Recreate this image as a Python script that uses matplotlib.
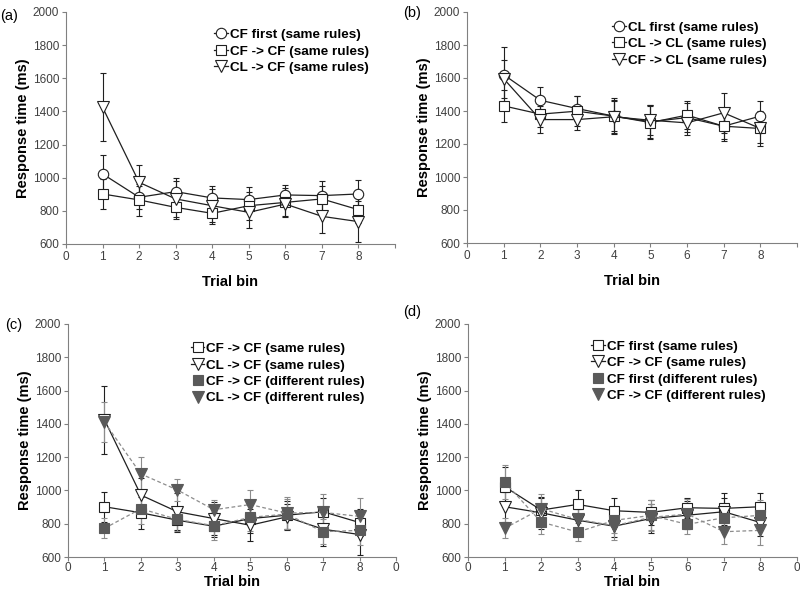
import matplotlib
matplotlib.use("Agg")
import matplotlib.pyplot as plt
from matplotlib.lines import Line2D

plt.rcParams["font.family"] = ["Liberation Sans", "DejaVu Sans"]

bins = [1, 2, 3, 4, 5, 6, 7, 8]

# panel a / shared CF data (same rules)
cf_first = [1023, 882, 916, 878, 868, 896, 892, 902]
cf_first_err = [115, 70, 85, 75, 75, 60, 90, 85]
cf_cf = [902, 866, 821, 785, 831, 851, 872, 807]
cf_cf_err = [90, 95, 70, 65, 85, 85, 80, 80]
cl_cf = [1425, 972, 872, 831, 791, 841, 767, 735]
cl_cf_err = [205, 105, 110, 100, 95, 80, 100, 125]

# panel b (CL, same rules)
cl_first = [1620, 1465, 1415, 1369, 1335, 1360, 1308, 1369]
cl_first_err = [165, 80, 75, 110, 100, 90, 90, 90]
cl_cl = [1431, 1381, 1399, 1369, 1330, 1375, 1308, 1294]
cl_cl_err = [95, 80, 90, 90, 100, 85, 80, 105]
cf_cl = [1596, 1348, 1348, 1365, 1344, 1328, 1389, 1294]
cf_cl_err = [115, 80, 65, 100, 90, 75, 120, 90]

# different rules
cf_cf_diff = [772, 890, 826, 788, 838, 858, 752, 760]
cf_cf_diff_err = [60, 90, 70, 85, 80, 90, 75, 90]
cl_cf_diff = [1410, 1099, 1003, 884, 915, 864, 868, 844]
cl_cf_diff_err = [120, 100, 68, 60, 88, 95, 110, 110]
cf_first_diff = [1051, 810, 750, 820, 850, 796, 836, 850]
cf_first_diff_err = [100, 70, 55, 75, 90, 55, 80, 90]

xticks = [0, 1, 2, 3, 4, 5, 6, 7, 8, 9]
yticks = [600, 800, 1000, 1200, 1400, 1600, 1800, 2000]

fig = plt.figure(figsize=(8, 5.95), dpi=100)
W, H = 800, 595


def make_ax(l, r, t, b):
    return fig.add_axes([l / W, 1 - b / H, (r - l) / W, (b - t) / H])


axa = make_ax(66, 395, 12, 244)
axb = make_ax(467, 797, 12, 243)
axc = make_ax(68, 396, 324, 557)
axd = make_ax(468, 797, 324, 557)

fill_grey = "#5a5a5a"
dash_grey = "#8c8c8c"


def series(ax, y, err, marker, ms, filled=False):
    if filled:
        ax.errorbar(bins, y, yerr=err, color=dash_grey, ls="--", lw=0.9,
                    elinewidth=0.8, capsize=2.5, capthick=0.8,
                    marker=marker, ms=ms, mfc=fill_grey, mec=fill_grey,
                    mew=0.8, dashes=(3, 2))
    else:
        ax.errorbar(bins, y, yerr=err, color="#202020", ls="-", lw=0.9,
                    elinewidth=0.8, capsize=2.5, capthick=0.8,
                    marker=marker, ms=ms, mfc="white", mec="#202020",
                    mew=0.8)


def handle(marker, ms, filled=False):
    if filled:
        return Line2D([], [], color="white", ls="-", lw=0.9, marker=marker,
                      ms=ms, mfc=fill_grey, mec=fill_grey, mew=0.8)
    return Line2D([], [], color="#202020", ls="-", lw=0.9, marker=marker,
                  ms=ms, mfc="white", mec="#202020", mew=0.8)


def style(ax, tag, tag_xy, bottom_row=False):
    ax.set_xlim(0, 9)
    ax.set_ylim(600, 2000)
    ax.set_xticks(xticks)
    labels = [str(v) for v in range(9)] + (["0"] if bottom_row else [""])
    ax.set_xticklabels(labels)
    ax.set_yticks(yticks)
    for s in ["top", "right"]:
        ax.spines[s].set_visible(False)
    for s in ["left", "bottom"]:
        ax.spines[s].set_color("#808080")
        ax.spines[s].set_linewidth(0.8)
    ax.tick_params(direction="out", length=3, width=0.8, color="#808080",
                   labelsize=8.5, labelcolor="#404040", pad=2)
    if bottom_row:
        ax.tick_params(axis="x", pad=0.5)
        ax.set_xlabel("Trial bin", fontsize=10.5, fontweight="bold", labelpad=1)
        ax.set_ylabel("Response time (ms)", fontsize=10.5, fontweight="bold",
                      labelpad=1.5)
    else:
        ax.set_xlabel("Trial bin", fontsize=10.5, fontweight="bold", labelpad=9)
        ax.set_ylabel("Response time (ms)", fontsize=10.5, fontweight="bold",
                      labelpad=1.5)
    fig.text(tag_xy[0] / W, 1 - tag_xy[1] / H, tag, fontsize=10.5,
             va="center", ha="left")


def legend(ax, handles, labels, x, y):
    ax.legend(handles, labels, loc="upper left", bbox_to_anchor=(x, y),
              frameon=False, prop={"weight": "bold", "size": 9.7},
              handlelength=1.0, handletextpad=0.15, labelspacing=0.3,
              borderpad=0, borderaxespad=0)


series(axa, cf_first, cf_first_err, "o", 7.5)
series(axa, cf_cf, cf_cf_err, "s", 6.5)
series(axa, cl_cf, cl_cf_err, "v", 8.5)
style(axa, "(a)", (0, 16))
legend(axa, [handle("o", 7.5), handle("s", 6.5), handle("v", 8.5)],
       ["CF first (same rules)", "CF -> CF (same rules)", "CL -> CF (same rules)"],
       0.45, 0.928)

series(axb, cl_first, cl_first_err, "o", 7.5)
series(axb, cl_cl, cl_cl_err, "s", 6.5)
series(axb, cf_cl, cf_cl_err, "v", 8.5)
style(axb, "(b)", (403, 13))
legend(axb, [handle("o", 7.5), handle("s", 6.5), handle("v", 8.5)],
       ["CL first (same rules)", "CL -> CL (same rules)", "CF -> CL (same rules)"],
       0.44, 0.96)

series(axc, cf_cf, cf_cf_err, "s", 6.5)
series(axc, cl_cf, cl_cf_err, "v", 8.5)
series(axc, cf_cf_diff, cf_cf_diff_err, "s", 6.5, filled=True)
series(axc, cl_cf_diff, cl_cf_diff_err, "v", 8.5, filled=True)
style(axc, "(c)", (5, 325), bottom_row=True)
legend(axc, [handle("s", 6.5), handle("v", 8.5),
             handle("s", 6.5, True), handle("v", 8.5, True)],
       ["CF -> CF (same rules)", "CL -> CF (same rules)",
        "CF -> CF (different rules)", "CL -> CF (different rules)"],
       0.375, 0.92)

series(axd, cf_first, cf_first_err, "s", 6.5)
series(axd, cf_cf, cf_cf_err, "v", 8.5)
series(axd, cf_first_diff, cf_first_diff_err, "s", 6.5, filled=True)
series(axd, cf_cf_diff, cf_cf_diff_err, "v", 8.5, filled=True)
style(axd, "(d)", (403, 312), bottom_row=True)
legend(axd, [handle("s", 6.5), handle("v", 8.5),
             handle("s", 6.5, True), handle("v", 8.5, True)],
       ["CF first (same rules)", "CF -> CF (same rules)",
        "CF first (different rules)", "CF -> CF (different rules)"],
       0.375, 0.93)

fig.savefig("out.png", dpi=100)
